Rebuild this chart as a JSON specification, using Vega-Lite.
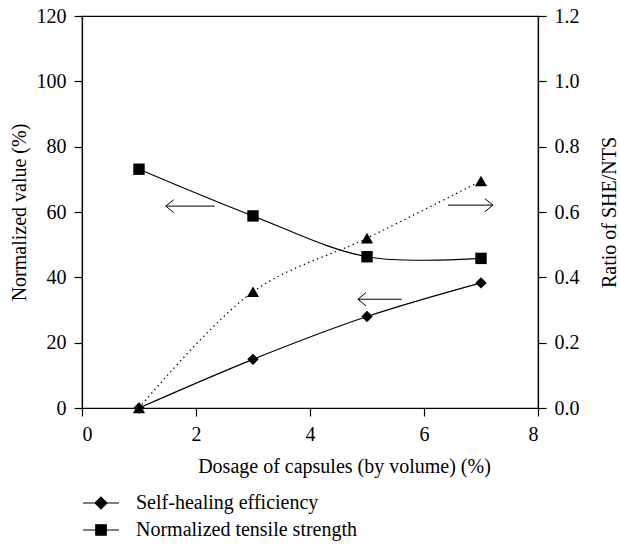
{
  "$schema": "https://vega.github.io/schema/vega-lite/v6.json",
  "width": 456,
  "height": 392,
  "autosize": {"type": "none"},
  "padding": {"left": 82, "top": 16, "right": 82, "bottom": 138},
  "background": "white",
  "config": {
    "font": "Liberation Serif, Times New Roman, serif",
    "view": {"stroke": "black", "strokeWidth": 1.2},
    "axis": {
      "grid": false,
      "domainColor": "black",
      "tickColor": "black",
      "labelColor": "black",
      "titleColor": "black",
      "labelFont": "Liberation Serif, Times New Roman, serif",
      "titleFont": "Liberation Serif, Times New Roman, serif",
      "labelFontSize": 20,
      "titleFontSize": 20,
      "titleFontWeight": "normal",
      "tickSize": 8,
      "labelPadding": 8,
      "domainWidth": 1.2,
      "tickWidth": 1.2
    },
    "legend": {
      "orient": "none",
      "title": null,
      "padding": 0,
      "labelFont": "Liberation Serif, Times New Roman, serif",
      "labelFontSize": 20,
      "labelColor": "black",
      "labelOffset": 16,
      "labelLimit": 400,
      "symbolSize": 1296,
      "symbolStrokeColor": "black",
      "symbolFillColor": "black",
      "symbolStrokeWidth": 1.2,
      "symbolOpacity": 1
    }
  },
  "datasets": {
    "main": [
      {"dosage": 1, "series": "Self-healing efficiency", "value": 0},
      {"dosage": 3, "series": "Self-healing efficiency", "value": 14.9},
      {"dosage": 5, "series": "Self-healing efficiency", "value": 28.0},
      {"dosage": 7, "series": "Self-healing efficiency", "value": 38.3},
      {"dosage": 1, "series": "Normalized tensile strength", "value": 73.1},
      {"dosage": 3, "series": "Normalized tensile strength", "value": 58.8},
      {"dosage": 5, "series": "Normalized tensile strength", "value": 46.3},
      {"dosage": 7, "series": "Normalized tensile strength", "value": 45.8}
    ],
    "ratio": [
      {"dosage": 1, "ratio": 0.0},
      {"dosage": 3, "ratio": 0.356},
      {"dosage": 5, "ratio": 0.52},
      {"dosage": 7, "ratio": 0.695}
    ],
    "arrows": [
      {"tail": 2.33, "tip": 1.47, "level": 61.8, "dir": "left"},
      {"tail": 6.42, "tip": 7.21, "level": 62.1, "dir": "right"},
      {"tail": 5.61, "tip": 4.84, "level": 33.3, "dir": "left"}
    ]
  },
  "layer": [
    {
      "layer": [
        {
          "data": {"name": "main"},
          "transform": [{"filter": "datum.series === 'Self-healing efficiency'"}],
          "mark": {"type": "line", "interpolate": "catmull-rom", "strokeWidth": 1.2},
          "encoding": {
            "x": {"field": "dosage", "type": "quantitative", "scale": {"domain": [0, 8], "nice": false},
                  "axis": {"values": [0, 2, 4, 6, 8], "format": "d", "title": "Dosage of capsules (by volume) (%)", "titlePadding": 12, "titleX": 262}},
            "y": {"field": "value", "type": "quantitative", "scale": {"domain": [0, 120], "nice": false},
                  "axis": {"values": [0, 20, 40, 60, 80, 100, 120], "format": "d", "title": "Normalized value (%)", "titlePadding": 7}},
            "color": {
              "field": "series", "type": "nominal",
              "scale": {"domain": ["Self-healing efficiency"], "range": ["black"]},
              "legend": {"legendX": 0, "legendY": 468, "symbolType": "M-1,0H1M0,-0.33L0.33,0L0,0.33L-0.33,0Z"}
            }
          }
        },
        {
          "data": {"name": "main"},
          "transform": [{"filter": "datum.series === 'Normalized tensile strength'"}],
          "mark": {"type": "line", "interpolate": "catmull-rom", "strokeWidth": 1.2},
          "encoding": {
            "x": {"field": "dosage", "type": "quantitative"},
            "y": {"field": "value", "type": "quantitative"},
            "stroke": {
              "field": "series", "type": "nominal",
              "scale": {"domain": ["Normalized tensile strength"], "range": ["black"]},
              "legend": {"legendX": 0, "legendY": 495, "symbolType": "M-1,0H1M-0.29,-0.29H0.29V0.29H-0.29Z"}
            }
          }
        },
        {
          "data": {"name": "main"},
          "mark": {"type": "point", "filled": true, "color": "black", "opacity": 1, "size": 130},
          "encoding": {
            "x": {"field": "dosage", "type": "quantitative"},
            "y": {"field": "value", "type": "quantitative"},
            "shape": {"condition": {"test": "datum.series === 'Self-healing efficiency'", "value": "diamond"}, "value": "square"}
          }
        },
        {
          "data": {"name": "arrows"},
          "mark": {"type": "rule", "color": "black", "strokeWidth": 1},
          "encoding": {
            "x": {"field": "tail", "type": "quantitative"},
            "x2": {"field": "tip"},
            "y": {"field": "level", "type": "quantitative"}
          }
        },
        {
          "data": {"name": "arrows"},
          "mark": {"type": "point", "filled": false, "color": "black", "strokeWidth": 1, "size": 169, "opacity": 1},
          "encoding": {
            "x": {"field": "tip", "type": "quantitative"},
            "y": {"field": "level", "type": "quantitative"},
            "shape": {"condition": {"test": "datum.dir === 'left'", "value": "M1.23,-1L0,0L1.23,1"}, "value": "M-1.23,-1L0,0L-1.23,1"}
          }
        }
      ]
    },
    {
      "data": {"name": "ratio"},
      "layer": [
        {
          "mark": {"type": "line", "interpolate": "catmull-rom", "color": "black", "strokeWidth": 1.3, "strokeDash": [1.3, 3.5]},
          "encoding": {
            "x": {"field": "dosage", "type": "quantitative"},
            "y": {"field": "ratio", "type": "quantitative", "scale": {"domain": [0, 1.2], "nice": false},
                  "axis": {"orient": "right", "values": [0, 0.2, 0.4, 0.6, 0.8, 1.0, 1.2], "format": ".1f",
                           "title": "Ratio of SHE/NTS", "titleAngle": 270, "titleBaseline": "top", "titlePadding": 20}}
          }
        },
        {
          "mark": {"type": "point", "shape": "triangle-up", "filled": true, "color": "black", "opacity": 1, "size": 150},
          "encoding": {
            "x": {"field": "dosage", "type": "quantitative"},
            "y": {"field": "ratio", "type": "quantitative"}
          }
        }
      ]
    }
  ],
  "resolve": {"scale": {"y": "independent"}}
}
